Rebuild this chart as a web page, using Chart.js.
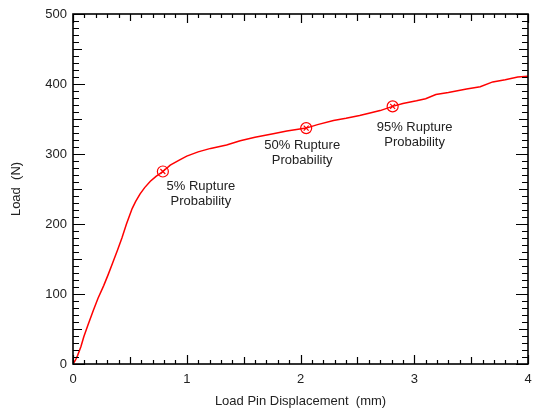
<!DOCTYPE html>
<html><head><meta charset="utf-8">
<script src="https://cdn.jsdelivr.net/npm/chart.js@4.4.0/dist/chart.umd.min.js"></script>
<style>html,body{margin:0;padding:0;background:#fff}#wrap{width:535px;height:411px}</style>
</head><body><div id="wrap"><canvas id="c" width="535" height="411"></canvas></div>
<script>
// Load pin displacement (mm) and load (N)
const displacement = [0, 0.02, 0.04, 0.07, 0.095, 0.13, 0.18, 0.22, 0.27, 0.31, 0.35, 0.39, 0.43, 0.47, 0.52, 0.55, 0.59, 0.63, 0.68, 0.73, 0.79, 0.855, 0.93, 1.0, 1.1, 1.21, 1.35, 1.47, 1.6, 1.76, 1.88, 2.05, 2.15, 2.29, 2.4, 2.52, 2.62, 2.70, 2.81, 2.9, 3.02, 3.1, 3.19, 3.3, 3.46, 3.58, 3.69, 3.8, 3.91, 4.0];
const load = [0, 5, 12, 25, 39, 55, 77, 94, 112, 128, 145, 162, 180, 200, 222, 232, 243, 252, 261, 268, 275, 284, 291, 297, 303, 308, 313, 319, 324, 329, 333, 337, 342, 348, 351, 355, 359, 362, 368, 372, 376, 379, 385, 388, 393, 396, 403, 406, 410, 411];
// Rupture probability markers
const markerX = [0.79, 2.05, 2.81];
const markerY = [275, 337, 368];
const markerLabels = [["5% Rupture", "Probability"], ["50% Rupture", "Probability"], ["95% Rupture", "Probability"]];
// Tick labels
const xTickValues = [0, 1, 2, 3, 4];
const yTickValues = [0, 100, 200, 300, 400, 500];

const FONT = "'Liberation Sans', Arial, sans-serif";
const curve = displacement.map((d, i) => ({x: d, y: load[i]}));
const markers = markerX.map((d, i) => ({x: d, y: markerY[i]}));

const frameTicks = {
  id: 'frameTicks',
  afterDraw(chart) {
    const {ctx, chartArea: a, scales: {x, y}} = chart;
    ctx.save();
    ctx.strokeStyle = '#000';
    ctx.lineWidth = 1.2;
    ctx.beginPath();
    for (let i = 0; i <= 40; i++) {
      const px = Math.round(x.getPixelForValue(i / 10)) + 0.5;
      const len = i % 10 === 0 ? 9 : (i % 5 === 0 ? 7 : 4);
      ctx.moveTo(px, a.bottom); ctx.lineTo(px, a.bottom - len);
      ctx.moveTo(px, a.top); ctx.lineTo(px, a.top + len);
    }
    for (let i = 0; i <= 50; i++) {
      const py = Math.round(y.getPixelForValue(i * 10)) + 0.5;
      const len = i % 10 === 0 ? 12 : (i % 5 === 0 ? 9 : 6);
      ctx.moveTo(a.left, py); ctx.lineTo(a.left + len, py);
      ctx.moveTo(a.right, py); ctx.lineTo(a.right - len, py);
    }
    ctx.stroke();
    ctx.lineWidth = 1.6;
    ctx.strokeRect(a.left, a.top, a.right - a.left, a.bottom - a.top);
    ctx.restore();
  }
};

// label placement relative to each marker (center x, first baseline)
const labelOffsets = [[38, 18], [-4, 21], [22, 25]];
const markerText = {
  id: 'markerText',
  afterDatasetsDraw(chart) {
    const {ctx, scales: {x, y}} = chart;
    ctx.save();
    ctx.fillStyle = '#222';
    ctx.font = '13px ' + FONT;
    ctx.textAlign = 'center';
    ctx.textBaseline = 'alphabetic';
    markerLabels.forEach((lines, i) => {
      const px = x.getPixelForValue(markerX[i]) + labelOffsets[i][0];
      const py = y.getPixelForValue(markerY[i]) + labelOffsets[i][1];
      lines.forEach((t, j) => ctx.fillText(t, px, py + j * 15));
    });
    ctx.restore();
  }
};

new Chart(document.getElementById('c'), {
  type: 'scatter',
  data: {
    datasets: [
      {data: curve, showLine: true, borderColor: '#ff0000', borderWidth: 1.5, pointRadius: 0, tension: 0, fill: false},
      {data: markers, showLine: false, pointStyle: 'circle', pointRadius: 5.5, borderColor: '#ff0000', backgroundColor: 'rgba(0,0,0,0)', pointBorderWidth: 1.2},
      {data: markers, showLine: false, pointStyle: 'crossRot', pointRadius: 3.5, borderColor: '#ff0000', pointBorderWidth: 1.2}
    ]
  },
  options: {
    responsive: false,
    animation: false,
    devicePixelRatio: 1,
    layout: {padding: {left: 0, top: 14, right: 7, bottom: 0}},
    plugins: {legend: {display: false}, tooltip: {enabled: false}},
    scales: {
      x: {
        type: 'linear', min: 0, max: 4,
        afterBuildTicks: s => { s.ticks = xTickValues.map(v => ({value: v})); },
        afterFit: s => { s.height = 47; s.paddingLeft = 0; s.paddingRight = 0; },
        grid: {display: false, drawTicks: false},
        border: {display: false},
        ticks: {font: {family: FONT, size: 13}, color: '#222', padding: 8, maxRotation: 0},
        title: {display: true, text: 'Load Pin Displacement  (mm)', font: {family: FONT, size: 13}, color: '#222', padding: {top: 0, bottom: 2}}
      },
      y: {
        type: 'linear', min: 0, max: 500,
        afterBuildTicks: s => { s.ticks = yTickValues.map(v => ({value: v})); },
        afterFit: s => { s.width = 73; s.paddingTop = 0; s.paddingBottom = 0; },
        grid: {display: false, drawTicks: false},
        border: {display: false},
        ticks: {font: {family: FONT, size: 13}, color: '#222', padding: 6},
        title: {display: true, text: 'Load  (N)', font: {family: FONT, size: 13}, color: '#222', padding: {top: 9, bottom: 0}}
      }
    }
  },
  plugins: [frameTicks, markerText]
});
</script>
</body></html>
